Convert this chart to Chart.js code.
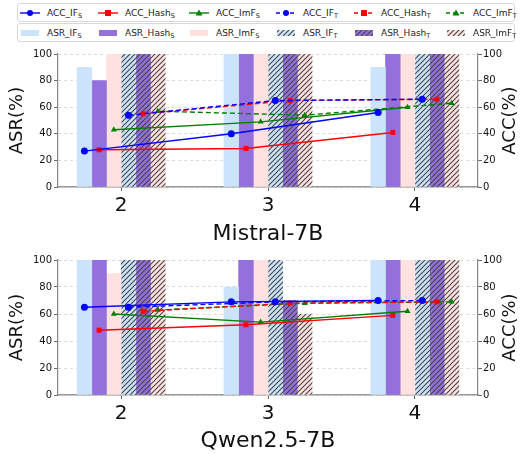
<!DOCTYPE html>
<html>
<head>
<meta charset="utf-8">
<script src="https://cdn.jsdelivr.net/npm/chart.js@4.4.0/dist/chart.umd.min.js"></script>
<style>
  body { margin: 0; width: 521px; height: 454px; background: #fff; overflow: hidden; position: relative; font-family: "DejaVu Sans", sans-serif; }
  .leg { position: absolute; left: 17px; width: 498px; height: 19px; border: 1px solid #d8d8d8; border-radius: 3px; box-sizing: border-box; }
  .item { position: absolute; top: 0; height: 17px; display: flex; align-items: center; font-size: 9px; color: #222; white-space: nowrap; }
  .item canvas { margin-right: 7px; }
  .item sub { font-size: 6.5px; vertical-align: -2px; line-height: 0; }
  .panel { position: absolute; left: 0; width: 521px; }
</style>
</head>
<body>
<div class="leg" id="legAcc" style="top:3px"></div>
<div class="leg" id="legAsr" style="top:23px"></div>
<div class="panel" style="top:44px"><canvas id="chart-panel-1" width="521" height="206"></canvas></div>
<div class="panel" style="top:250px"><canvas id="chart-panel-2" width="521" height="204"></canvas></div>
<script>
const groups = [2, 3, 4];
const seriesNames = ['IF', 'Hash', 'ImF'];

// Mistral-7B
const mistralAsrIfS   = [90, 100, 90];
const mistralAsrHashS = [80, 100, 100];
const mistralAsrImfS  = [100, 100, 100];
const mistralAsrIfT   = [100, 100, 100];
const mistralAsrHashT = [100, 100, 100];
const mistralAsrImfT  = [100, 100, 100];
const mistralAccIfS   = [27, 40, 56];
const mistralAccHashS = [28, 29, 41];
const mistralAccImfS  = [43, 49, 60];
const mistralAccIfT   = [54, 65, 66];
const mistralAccHashT = [55, 65, 66];
const mistralAccImfT  = [57, 54, 63];

// Qwen2.5-7B
const qwenAsrIfS   = [100, 80, 100];
const qwenAsrHashS = [100, 100, 100];
const qwenAsrImfS  = [90, 100, 100];
const qwenAsrIfT   = [100, 100, 100];
const qwenAsrHashT = [100, 70, 100];
const qwenAsrImfT  = [100, 60, 100];
const qwenAccIfS   = [65, 69, 70];
const qwenAccHashS = [48, 52, 59];
const qwenAccImfS  = [60, 54, 62];
const qwenAccIfT   = [65, 69, 70];
const qwenAccHashT = [62, 68, 69];
const qwenAccImfT  = [63, 68, 69];

// bar slot of each series inside a group: S series first, then T series
const offsets = [-0.25, -0.15, -0.05, 0.05, 0.15, 0.25];
const barColors = ['#cce4fb', '#9370db', '#ffe2df'];
const lineColors = ['#0000ff', '#ff0000', '#008000'];
const markers = ['circle', 'rect', 'triangle'];

const hatch = (bg) => {
  const c = document.createElement('canvas');
  const s = 5;
  c.width = s; c.height = s;
  const g = c.getContext('2d');
  g.fillStyle = bg;
  g.fillRect(0, 0, s, s);
  g.strokeStyle = '#444';
  g.lineWidth = 1.1;
  g.beginPath();
  g.moveTo(0, s); g.lineTo(s, 0);
  g.moveTo(-1, 1); g.lineTo(1, -1);
  g.moveTo(s - 1, s + 1); g.lineTo(s + 1, s - 1);
  g.stroke();
  return g.createPattern(c, 'repeat');
};
const hatchFills = barColors.map(hatch);

const rightTitle = {
  id: 'rightTitle',
  afterDraw(chart) {
    const {ctx, chartArea} = chart;
    ctx.save();
    ctx.translate(chart.width - 11, (chartArea.top + chartArea.bottom) / 2);
    ctx.rotate(-Math.PI / 2);
    ctx.font = '18px "DejaVu Sans"';
    ctx.fillStyle = '#111';
    ctx.textAlign = 'center';
    ctx.textBaseline = 'middle';
    ctx.fillText('ACC(%)', 0, 0);
    ctx.restore();
  }
};

const toPoints = (vals, k) => vals.map((v, i) => ({x: groups[i] + offsets[k], y: v}));

const makePanel = (id, title, asr, acc, axisHeight, titlePad) => {
  const ctx = document.getElementById(id);
  const datasets = [];
  asr.forEach((vals, k) => {
    datasets.push({
      type: 'bar',
      data: toPoints(vals, k),
      backgroundColor: k < 3 ? barColors[k] : hatchFills[k - 3],
      borderWidth: 0,
      grouped: false,
      barPercentage: 1,
      categoryPercentage: 1,
      yAxisID: 'y',
      order: 2
    });
  });
  acc.forEach((vals, k) => {
    datasets.push({
      type: 'line',
      data: toPoints(vals, k),
      borderColor: lineColors[k % 3],
      backgroundColor: lineColors[k % 3],
      borderWidth: 1.4,
      borderDash: k < 3 ? [] : [5, 3],
      pointStyle: markers[k % 3],
      pointRadius: 3.5,
      pointBorderWidth: 0,
      yAxisID: 'y2',
      order: 1
    });
  });

  new Chart(ctx, {
    type: 'bar',
    data: {datasets},
    plugins: [rightTitle],
    options: {
      responsive: false,
      animation: false,
      devicePixelRatio: 1,
      layout: {padding: {top: 10, left: 0, right: 0, bottom: 0}},
      plugins: {legend: {display: false}, tooltip: {enabled: false}},
      scales: {
        x: {
          type: 'linear',
          offset: false,
          min: 1.57,
          max: 4.43,
          afterBuildTicks: (scale) => { scale.ticks = groups.map(v => ({value: v})); },
          afterFit: (scale) => { scale.height = axisHeight; },
          ticks: {font: {family: 'DejaVu Sans', size: 20}, color: '#111', padding: 3, maxRotation: 0},
          grid: {drawOnChartArea: false, offset: false, tickLength: 4, tickColor: '#666'},
          border: {color: '#999', width: 1.6},
          title: {display: true, text: title, font: {family: 'DejaVu Sans', size: 22}, color: '#111', padding: {top: 0, bottom: titlePad}}
        },
        y: {
          position: 'left',
          min: 0,
          max: 100,
          afterFit: (scale) => { scale.width = 58; },
          ticks: {stepSize: 20, font: {family: 'DejaVu Sans', size: 10}, color: '#111', padding: 2},
          grid: {color: '#d9d9d9', tickLength: 4, tickColor: '#666', tickBorderDash: []},
          border: {color: '#888', width: 1.2, dash: [3, 3]},
          title: {display: true, text: 'ASR(%)', font: {family: 'DejaVu Sans', size: 18}, color: '#111', padding: {top: 7, bottom: 0}}
        },
        y2: {
          position: 'right',
          min: 0,
          max: 100,
          afterFit: (scale) => { scale.width = 43; },
          ticks: {stepSize: 20, font: {family: 'DejaVu Sans', size: 10}, color: '#111', padding: 1},
          grid: {drawOnChartArea: false, tickLength: 4, tickColor: '#666'},
          border: {color: '#888', width: 1.2}
        }
      }
    }
  });
};

makePanel('chart-panel-1', 'Mistral-7B',
  [mistralAsrIfS, mistralAsrHashS, mistralAsrImfS, mistralAsrIfT, mistralAsrHashT, mistralAsrImfT],
  [mistralAccIfS, mistralAccHashS, mistralAccImfS, mistralAccIfT, mistralAccHashT, mistralAccImfT], 63, 3);
makePanel('chart-panel-2', 'Qwen2.5-7B',
  [qwenAsrIfS, qwenAsrHashS, qwenAsrImfS, qwenAsrIfT, qwenAsrHashT, qwenAsrImfT],
  [qwenAccIfS, qwenAccHashS, qwenAccImfS, qwenAccIfT, qwenAccHashT, qwenAccImfT], 59, 0);

// legends (two boxed rows, like the reference)
const legendX = [2, 80, 171, 258, 336, 428];
const swatch = (draw) => {
  const c = document.createElement('canvas');
  c.width = 20; c.height = 10;
  draw(c.getContext('2d'));
  return c;
};
const addItem = (row, k, label, sub, draw) => {
  const el = document.createElement('div');
  el.className = 'item';
  el.style.left = legendX[k] + 'px';
  el.appendChild(swatch(draw));
  const t = document.createElement('span');
  t.innerHTML = label + '<sub>' + sub + '</sub>';
  el.appendChild(t);
  row.appendChild(el);
};
const legAcc = document.getElementById('legAcc');
const legAsr = document.getElementById('legAsr');
for (let k = 0; k < 6; k++) {
  const j = k % 3;
  const sub = k < 3 ? 'S' : 'T';
  addItem(legAcc, k, 'ACC_' + seriesNames[j], sub, (g) => {
    g.strokeStyle = lineColors[j];
    g.fillStyle = lineColors[j];
    g.lineWidth = 1.4;
    g.setLineDash(k < 3 ? [] : [4, 3]);
    g.beginPath(); g.moveTo(0, 5); g.lineTo(20, 5); g.stroke();
    g.beginPath();
    if (j === 0) g.arc(10, 5, 3, 0, Math.PI * 2);
    else if (j === 1) g.rect(7, 2, 6, 6);
    else { g.moveTo(10, 1.5); g.lineTo(13.5, 7.5); g.lineTo(6.5, 7.5); g.closePath(); }
    g.fill();
  });
  addItem(legAsr, k, 'ASR_' + seriesNames[j], sub, (g) => {
    g.fillStyle = k < 3 ? barColors[j] : hatchFills[j];
    g.fillRect(1, 2, 18, 6);
  });
}
</script>
</body>
</html>
